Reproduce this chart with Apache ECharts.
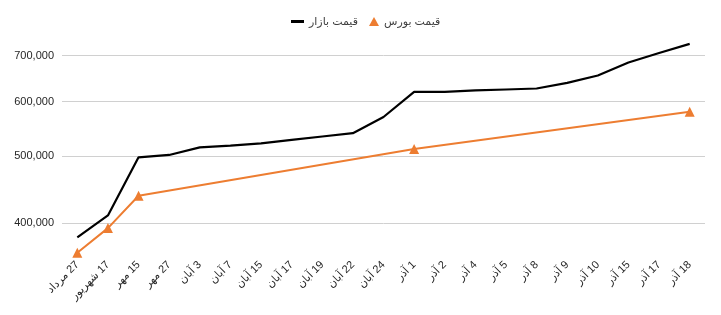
<html>
<head>
<meta charset="utf-8">
<title>قیمت بازار و بورس</title>
<script src="https://cdn.jsdelivr.net/npm/echarts@6/dist/echarts.min.js"></script>
<style>
body { margin: 0; background: #fff; }
#main { width: 721px; height: 315px; }
</style>
</head>
<body>
<div id="main"></div>
<script type="text/javascript">

// روزها
var days = ['27 مرداد', '17 شهریور', '15 مهر', '27 مهر', '3 آبان', '7 آبان', '15 آبان', '17 آبان',
    '19 آبان', '22 آبان', '24 آبان', '1 آذر', '2 آذر', '4 آذر', '5 آذر', '8 آذر', '9 آذر',
    '10 آذر', '15 آذر', '17 آذر', '18 آذر'];

// قیمت بازار
var marketPrice = [381000, 410000, 498000, 502000, 515000, 518000, 522000, 528000,
    534000, 540000, 570000, 620000, 620000, 623000, 625000, 627000, 639000,
    655000, 684000, 706000, 728000];

// قیمت بورس (only some days)
var boursePrice = [362000, 393000, 438000, null, null, null, null, null,
    null, null, null, 512000, null, null, null, null, null,
    null, null, null, 580000];

var yTicks = [400000, 500000, 600000, 700000];

var font = 'Liberation Sans, DejaVu Sans, sans-serif';

var myChart = echarts.init(document.getElementById('main'));

option = {
    animation: false,
    legend: [
        {
            data: [{ name: 'قیمت بازار', icon: 'rect' }],
            left: 286, top: 11,
            itemWidth: 13, itemHeight: 3, itemGap: 8,
            textStyle: { color: '#404040', fontSize: 11, fontFamily: font }
        },
        {
            data: [{ name: 'قیمت بورس', icon: 'triangle' }],
            left: 364, top: 11,
            itemWidth: 10, itemHeight: 9,
            textStyle: { color: '#404040', fontSize: 11, fontFamily: font }
        }
    ],
    grid: { left: 62, right: 16, top: 39, bottom: 59, containLabel: false },
    xAxis: {
        type: 'category',
        data: days,
        boundaryGap: true,
        axisLine: { show: false },
        axisTick: { show: false },
        axisLabel: {
            rotate: 45,
            interval: 0,
            margin: 7,
            color: '#262626',
            fontSize: 11,
            fontFamily: font,
            formatter: function (v) { return '\u200F' + v; }
        }
    },
    yAxis: {
        type: 'log',
        logBase: 10,
        min: 358000,
        max: 740000,
        axisLine: { show: false },
        axisTick: { show: false, customValues: yTicks },
        axisLabel: {
            customValues: yTicks,
            margin: 8,
            color: '#262626',
            fontSize: 11,
            fontFamily: font,
            formatter: function (v) { return Math.round(v).toLocaleString('en-US'); }
        },
        splitLine: { lineStyle: { color: '#d0d0d0', width: 1 } }
    },
    series: [
        {
            name: 'قیمت بازار',
            type: 'line',
            data: marketPrice,
            symbol: 'none',
            lineStyle: { color: '#000', width: 2.2 },
            itemStyle: { color: '#000' }
        },
        {
            name: 'قیمت بورس',
            type: 'line',
            data: boursePrice,
            connectNulls: true,
            symbol: 'triangle',
            symbolSize: 10,
            lineStyle: { color: '#ed7d31', width: 2 },
            itemStyle: { color: '#ed7d31' }
        }
    ]
};
myChart.setOption(option);

</script>
</body>
</html>
